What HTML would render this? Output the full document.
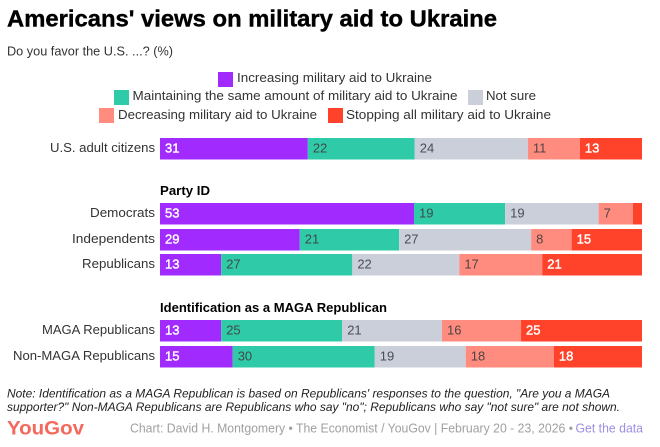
<!DOCTYPE html>
<html lang="en">
<head>
<meta charset="utf-8">
<title>Americans' views on military aid to Ukraine</title>
<style>
html,body{margin:0;padding:0;background:#fff;width:660px;height:447px;overflow:hidden}
svg{display:block;font-family:"Liberation Sans",sans-serif}
</style>
</head>
<body>
<svg id="chart" width="660" height="447" viewBox="0 0 660 447" xmlns="http://www.w3.org/2000/svg">
  <text x="7" y="26.500" font-size="23" font-weight="700" fill="#000" stroke="#000" stroke-width="0.4" textLength="490" lengthAdjust="spacingAndGlyphs">Americans' views on military aid to Ukraine</text>
  <text x="7" y="55.500" font-size="13" fill="#333" textLength="166" lengthAdjust="spacingAndGlyphs">Do you favor the U.S. ...? (%)</text>

  <g font-size="13" fill="#333">
    <g>
      <rect x="218" y="72" width="15" height="15" fill="#a12bff"/>
      <text x="237" y="82" textLength="195" lengthAdjust="spacingAndGlyphs">Increasing military aid to Ukraine</text>
    </g>
    <g>
      <rect x="114" y="90" width="15" height="15" fill="#2fcba8"/>
      <text x="132.500" y="100" textLength="325" lengthAdjust="spacingAndGlyphs">Maintaining the same amount of military aid to Ukraine</text>
    </g>
    <g>
      <rect x="468" y="90" width="15" height="15" fill="#cbcfda"/>
      <text x="486" y="100" textLength="50" lengthAdjust="spacingAndGlyphs">Not sure</text>
    </g>
    <g>
      <rect x="99" y="108" width="15" height="15" fill="#ff8c7e"/>
      <text x="118" y="119" textLength="199" lengthAdjust="spacingAndGlyphs">Decreasing military aid to Ukraine</text>
    </g>
    <g>
      <rect x="328" y="108" width="15" height="15" fill="#ff432b"/>
      <text x="346" y="119" textLength="205" lengthAdjust="spacingAndGlyphs">Stopping all military aid to Ukraine</text>
    </g>
  </g>

  <text x="160" y="195" font-size="13" font-weight="700" fill="#000" textLength="50" lengthAdjust="spacingAndGlyphs">Party ID</text>
  <text x="160" y="312" font-size="13" font-weight="700" fill="#000" textLength="227" lengthAdjust="spacingAndGlyphs">Identification as a MAGA Republican</text>

  <g id="bars"></g>

  <g font-size="12" font-style="italic" fill="#222">
    <text x="7" y="397.500" textLength="603" lengthAdjust="spacingAndGlyphs">Note: Identification as a MAGA Republican is based on Republicans' responses to the question, "Are you a MAGA</text>
    <text x="7" y="411" textLength="613" lengthAdjust="spacingAndGlyphs">supporter?" Non-MAGA Republicans are Republicans who say "no"; Republicans who say "not sure" are not shown.</text>
  </g>

  <text x="7" y="434.500" font-size="19.500" font-weight="700" fill="#f4695c" textLength="77" lengthAdjust="spacingAndGlyphs">YouGov</text>
  <text x="130" y="432.500" font-size="12.500" fill="#a0a0a0" textLength="443" lengthAdjust="spacingAndGlyphs">Chart: David H. Montgomery • The Economist / YouGov | February 20 - 23, 2026 •</text>
  <text x="575.500" y="432.500" font-size="12.500" fill="#9d8fe3" textLength="67.500" lengthAdjust="spacingAndGlyphs" style="cursor:pointer">Get the data</text>
</svg>

<script>
const categories = ["U.S. adult citizens", "Democrats", "Independents", "Republicans", "MAGA Republicans", "Non-MAGA Republicans"];
const increasing = [30.7, 52.7, 29.0, 12.7, 12.7, 15.1];
const maintaining = [22.2, 18.9, 20.6, 27.2, 25.1, 29.5];
const notSure = [23.5, 19.4, 27.4, 22.2, 20.7, 18.9];
const decreasing = [10.8, 7.1, 8.4, 17.2, 16.4, 18.3];
const stopping = [12.9, 1.9, 14.6, 20.7, 25.1, 18.3];
const seriesNames = ["increasing", "maintaining", "not-sure", "decreasing", "stopping"];

const seriesValues = [increasing, maintaining, notSure, decreasing, stopping];
const seriesColors = ["#a12bff", "#2fcba8", "#cbcfda", "#ff8c7e", "#ff432b"];
const labelColors = ["#ffffff", "#3f4a4a", "#4a4d55", "#4f4444", "#ffffff"];
const plotLeft = 160;
const plotWidth = 482;
const rowTopByCategory = { 0: 138, 1: 203, 2: 229, 3: 254, 4: 320, 5: 346 };
const rowLabelLength = { 0: 105, 1: 65, 2: 83, 3: 73, 4: 113, 5: 142 };
const barHeight = 21.5;
const svgNS = "http://www.w3.org/2000/svg";
const barsGroup = document.getElementById("bars");

function xScale(share) {
  return plotLeft + share * plotWidth;
}
function yScale(rowIndex) {
  return rowTopByCategory[rowIndex];
}

categories.forEach(function (category, rowIndex) {
  const total = seriesValues.reduce(function (sum, s) { return sum + s[rowIndex]; }, 0);
  const slug = category.toLowerCase().replace(/[^a-z]+/g, "-");
  const top = yScale(rowIndex);

  const rowLabel = document.createElementNS(svgNS, "text");
  
  
  rowLabel.setAttribute("x", 155 - rowLabelLength[rowIndex]);
  rowLabel.setAttribute("y", top + barHeight / 2 + 3);
  rowLabel.setAttribute("textLength", rowLabelLength[rowIndex]);
  rowLabel.setAttribute("lengthAdjust", "spacingAndGlyphs");
  rowLabel.setAttribute("font-size", "13");
  rowLabel.setAttribute("fill", "#333");
  rowLabel.textContent = category;
  barsGroup.appendChild(rowLabel);

  let cumulative = 0;
  seriesValues.forEach(function (series, seriesIndex) {
    const value = series[rowIndex];
    const x0 = xScale(cumulative / total);
    const x1 = xScale((cumulative + value) / total);

    const bar = document.createElementNS(svgNS, "rect");
    
    
    bar.setAttribute("x", x0);
    bar.setAttribute("y", top);
    bar.setAttribute("width", x1 - x0);
    bar.setAttribute("height", barHeight);
    bar.setAttribute("fill", seriesColors[seriesIndex]);
    barsGroup.appendChild(bar);

    if (value >= 3) {
      const valueLabel = document.createElementNS(svgNS, "text");
      
      
      valueLabel.setAttribute("x", x0 + 5);
      valueLabel.setAttribute("y", top + barHeight / 2 + 3.5);
      valueLabel.setAttribute("font-size", "13");
      valueLabel.setAttribute("fill", labelColors[seriesIndex]);
      if (labelColors[seriesIndex] === "#ffffff") {
        valueLabel.setAttribute("stroke", "#ffffff");
        valueLabel.setAttribute("stroke-width", "0.4");
      }
      valueLabel.textContent = Math.round(value);
      barsGroup.appendChild(valueLabel);
    }
    cumulative += value;
  });
});
</script>
</body>
</html>
